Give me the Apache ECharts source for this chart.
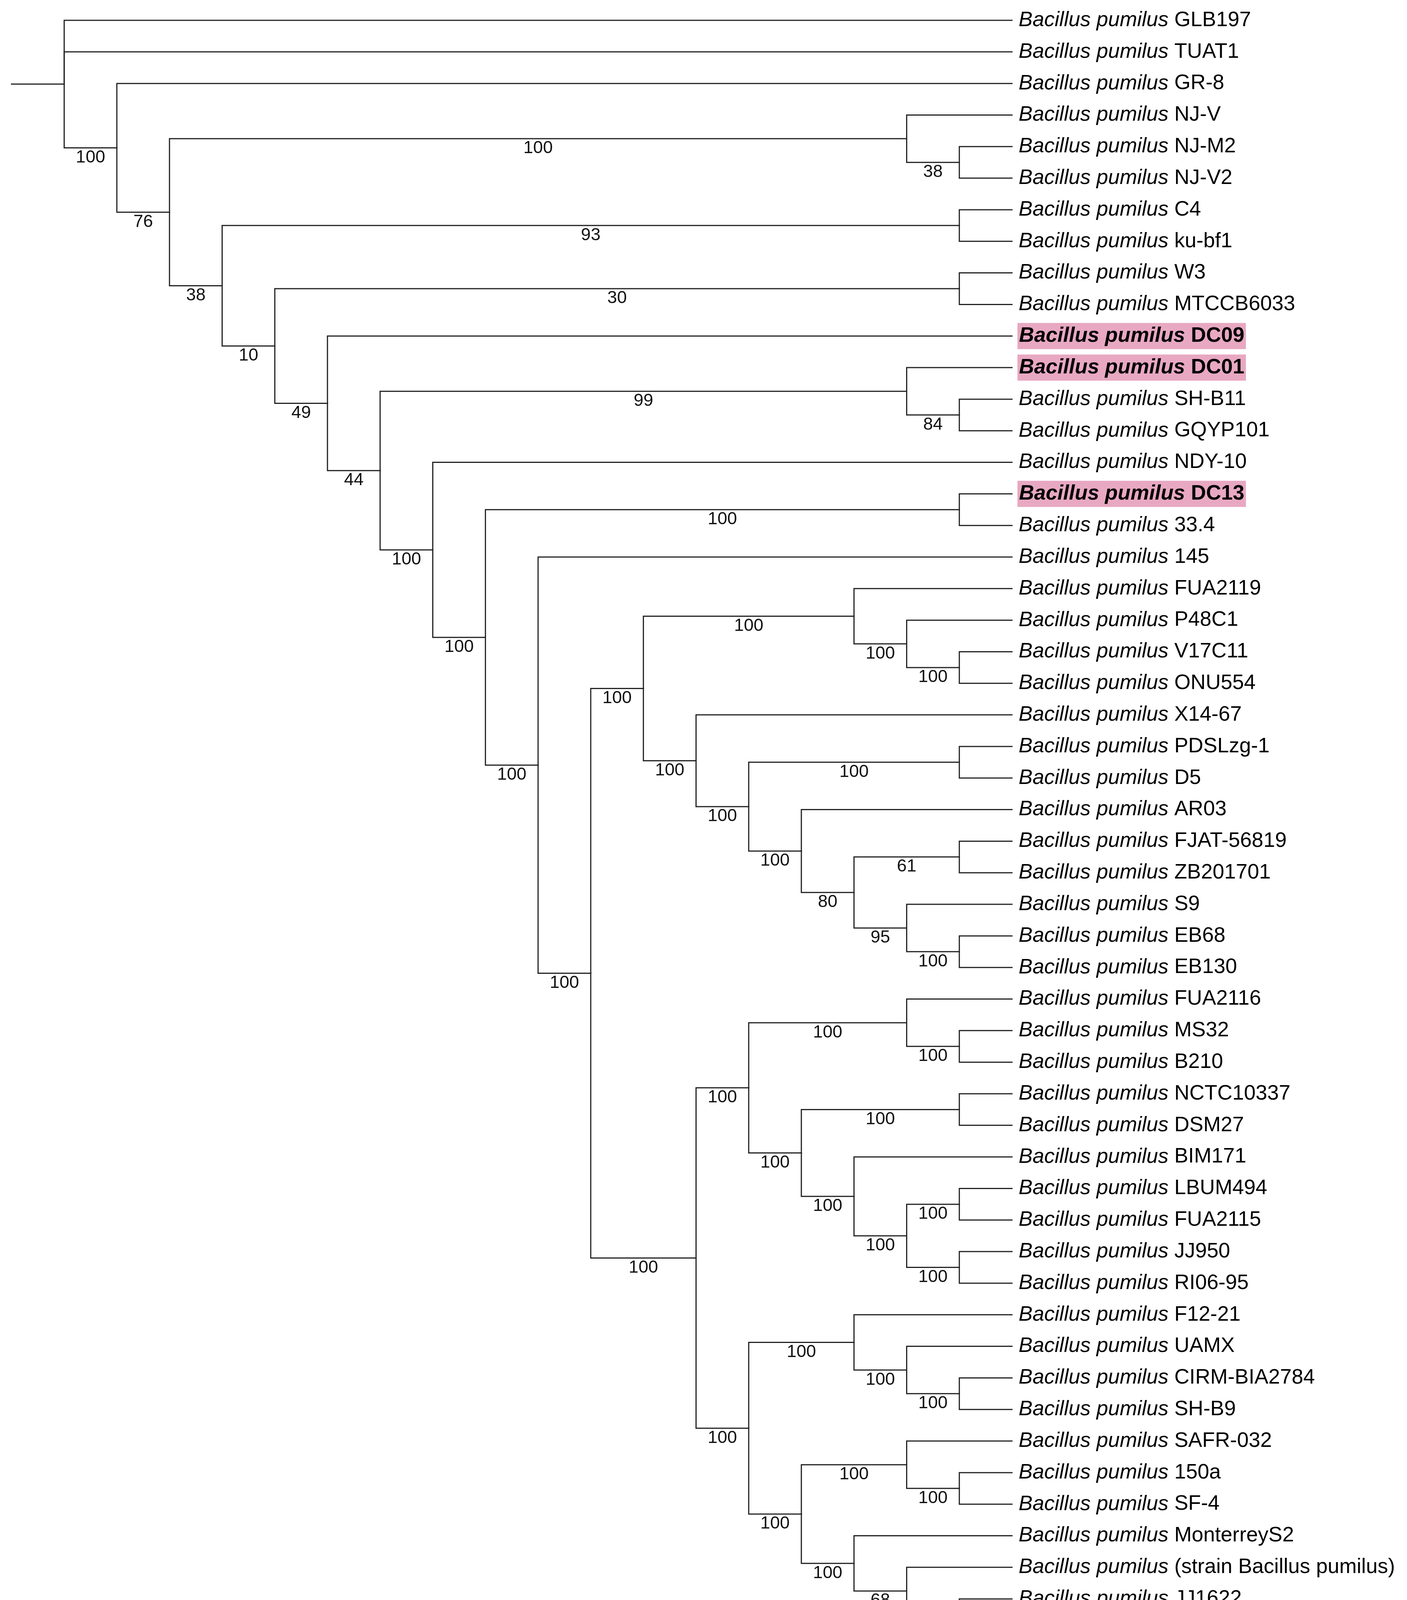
<!DOCTYPE html>
<html>
<head>
<meta charset="utf-8">
<script src="https://cdn.jsdelivr.net/npm/echarts@6/dist/echarts.min.js"></script>
<style>
html,body{margin:0;padding:0;background:#fff;}
#chart{width:3601px;height:4220px;}
</style>
</head>
<body>
<div id="chart"></div>
<script>
// ---- Tree data: each clade = [bootstrap support, child, child, ...]; leaves are strain names ----
const cladeN17 = [95, 'S9', [100, 'EB68', 'EB130']];
const cladeN16 = [80, [61, 'FJAT-56819', 'ZB201701'], cladeN17];
const cladeN15 = [100, 'AR03', cladeN16];
const cladeN14 = [100, [100, 'PDSLzg-1', 'D5'], cladeN15];
const cladeN13 = [100, 'X14-67', cladeN14];
const cladeFUA2119 = [100, 'FUA2119', [100, 'P48C1', [100, 'V17C11', 'ONU554']]];
const cladeN11 = [100, cladeFUA2119, cladeN13];
const cladeN22 = [100, [100, 'LBUM494', 'FUA2115'], [100, 'JJ950', 'RI06-95']];
const cladeN21 = [100, 'BIM171', cladeN22];
const cladeN20 = [100, [100, 'NCTC10337', 'DSM27'], cladeN21];
const cladeN18 = [100, [100, 'FUA2116', [100, 'MS32', 'B210']], cladeN20];
const cladeN23 = [100, 'F12-21', [100, 'UAMX', [100, 'CIRM-BIA2784', 'SH-B9']]];
const cladeN26 = [100, 'MonterreyS2', [68, '(strain Bacillus pumilus)', [100, 'JJ1622', 'JJ1368']]];
const cladeN24 = [100, [100, 'SAFR-032', [100, '150a', 'SF-4']], cladeN26];
const cladeN19 = [100, cladeN23, cladeN24];
const cladeN12 = [100, cladeN18, cladeN19];
const cladeN10 = [100, cladeN11, cladeN12];
const cladeN9 = [100, '145', cladeN10];
const cladeN8 = [100, [100, 'DC13', '33.4'], cladeN9];
const cladeN7 = [100, 'NDY-10', cladeN8];
const cladeN6 = [44, [99, 'DC01', [84, 'SH-B11', 'GQYP101']], cladeN7];
const cladeN5 = [49, 'DC09', cladeN6];
const cladeN4 = [10, [30, 'W3', 'MTCCB6033'], cladeN5];
const cladeN3 = [38, [93, 'C4', 'ku-bf1'], cladeN4];
const cladeN2 = [76, [100, 'NJ-V', [38, 'NJ-M2', 'NJ-V2']], cladeN3];
const cladeN1 = [100, 'GR-8', cladeN2];
const treeRoot = [null, 'GLB197', 'TUAT1', cladeN1];

const speciesName = 'Bacillus pumilus';
const highlighted = ['DC09', 'DC01', 'DC13'];

// ---- layout (cladogram: tips aligned, node depth by subtree height) ----
let leafCounter = 0;
function layout(node) {
  if (typeof node === 'string') return { name: node, y: leafCounter++, h: 0, leaf: true };
  const kids = node.slice(1).map(layout);
  const h = Math.max.apply(null, kids.map(k => k.h)) + 1;
  return { support: node[0], kids, h, y: (kids[0].y + kids[kids.length - 1].y) / 2, leaf: false };
}
const root = layout(treeRoot);
const xTip = root.h + 1;
const nLeaves = leafCounter;

const edges = [];      // [parentX, parentY, childX, childY]
const supports = [];   // [midX, childY]
const supportText = [];
const leaves = [];     // [x, y]
const leafNames = [];
function walk(n) {
  const xn = xTip - n.h;
  n.kids.forEach(c => {
    const xc = xTip - c.h;
    edges.push([xn, n.y, xc, c.y]);
    if (!c.leaf) {
      if (c.support != null) { supports.push([(xn + xc) / 2, c.y]); supportText.push(String(c.support)); }
      walk(c);
    } else {
      leaves.push([xc, c.y]); leafNames.push(c.name);
    }
  });
}
edges.push([0, root.y, xTip - root.h, root.y]); // root stem
walk(root);

const FONT = "'Liberation Sans', Arial, sans-serif";
const FS = 53.5;
const chart = echarts.init(document.getElementById('chart'), null, { renderer: 'canvas' });
chart.setOption({
  backgroundColor: '#ffffff',
  animation: false,
  grid: { left: 29.5, right: 1011, top: 52, bottom: 46 },
  xAxis: { type: 'value', min: 0, max: xTip, show: false },
  yAxis: { type: 'value', min: 0, max: nLeaves - 1, inverse: true, show: false },
  series: [
    {
      type: 'custom', data: edges, silent: true,
      renderItem: function (params, api) {
        const p0 = api.coord([api.value(0), api.value(1)]);
        const p1 = api.coord([api.value(0), api.value(3)]);
        const p2 = api.coord([api.value(2), api.value(3)]);
        return { type: 'polyline', shape: { points: [p0, p1, p2] },
          style: { stroke: '#222222', lineWidth: 3, fill: 'none', lineJoin: 'miter', lineCap: 'square' } };
      }
    },
    {
      type: 'custom', data: supports, silent: true,
      renderItem: function (params, api) {
        const p = api.coord([api.value(0), api.value(1)]);
        return { type: 'text', x: p[0], y: p[1] + 25,
          style: { text: supportText[params.dataIndex], fill: '#111111', fontFamily: FONT, fontSize: 45,
            align: 'center', verticalAlign: 'middle' } };
      }
    },
    {
      type: 'custom', data: leaves, silent: true,
      renderItem: function (params, api) {
        const p = api.coord([api.value(0), api.value(1)]);
        const name = leafNames[params.dataIndex];
        const hl = highlighted.indexOf(name) >= 0;
        if (hl) {
          return { type: 'text', x: p[0] + 14, y: p[1],
            style: { text: '{bi|' + speciesName + '} {b|' + name + '}', fill: '#000', fontFamily: FONT, fontSize: FS,
              fontWeight: 'bold', align: 'left', verticalAlign: 'middle',
              backgroundColor: '#e8a8c1', padding: [3, 4, 3, 4], lineHeight: 61,
              rich: {
                bi: { fontFamily: FONT, fontSize: FS, fontStyle: 'italic', fontWeight: 'bold', fill: '#000', lineHeight: 61 },
                b: { fontFamily: FONT, fontSize: FS, fontWeight: 'bold', fill: '#000', lineHeight: 61 }
              } } };
        }
        return { type: 'text', x: p[0] + 17, y: p[1],
          style: { text: '{i|' + speciesName + '} {n|' + name + '}', fill: '#000', fontFamily: FONT, fontSize: FS,
            align: 'left', verticalAlign: 'middle',
            rich: {
              i: { fontFamily: FONT, fontSize: FS, fontStyle: 'italic', fill: '#000' },
              n: { fontFamily: FONT, fontSize: FS, fill: '#000' }
            } } };
      }
    }
  ]
});
</script>
</body>
</html>
